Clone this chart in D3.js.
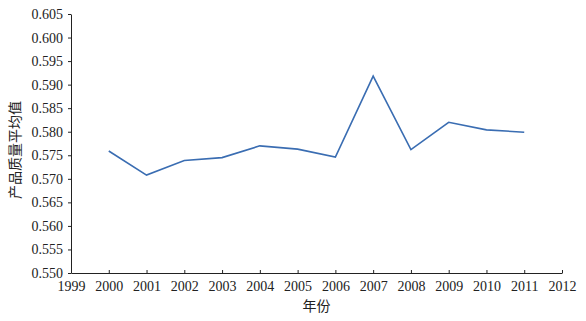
<!DOCTYPE html>
<html lang="zh">
<head>
<meta charset="UTF-8">
<title>产品质量平均值</title>
<script src="https://cdn.jsdelivr.net/npm/d3@7"></script>
<style>
  body { margin: 0; background: #fff; }
  .axis path, .axis line { fill: none; stroke: #222; }
  .axis text { font-family: "Liberation Serif", "Times New Roman", serif; font-size: 14px; fill: #222; }
</style>
</head>
<body>
<script>
const years = [2000, 2001, 2002, 2003, 2004, 2005, 2006, 2007, 2008, 2009, 2010, 2011];
const quality = [0.5759, 0.5708, 0.5739, 0.5745, 0.5770, 0.5763, 0.5746, 0.5918, 0.5762, 0.5820, 0.5804, 0.5799];
const xTicks = d3.range(1999, 2013);
const yTicks = d3.range(0.550, 0.6051, 0.005);

const w = 586, h = 321;
const margin = {left: 71, right: 24, top: 14, bottom: 48};

const svg = d3.select("body").append("svg")
  .attr("width", w).attr("height", h);

const x = d3.scaleLinear().domain([1999, 2012]).range([margin.left, w - margin.right]);
const y = d3.scaleLinear().domain([0.550, 0.605]).range([h - margin.bottom, margin.top]);

svg.append("g")
  .attr("class", "axis")
  .attr("transform", "translate(0," + (h - margin.bottom) + ")")
  .call(d3.axisBottom(x).tickValues(xTicks).tickFormat(d3.format("d")).tickSizeInner(-3).tickSizeOuter(0).tickPadding(8));

svg.append("g")
  .attr("class", "axis")
  .attr("transform", "translate(" + margin.left + ",0)")
  .call(d3.axisLeft(y).tickValues(yTicks).tickFormat(d3.format(".3f")).tickSizeInner(3).tickSizeOuter(0).tickPadding(5));

const line = d3.line()
  .x((d, i) => x(years[i]))
  .y(d => y(d));

svg.append("path")
  .datum(quality)
  .attr("fill", "none")
  .attr("stroke", "#3a6db2")
  .attr("stroke-width", 1.6)
  .attr("d", line);

svg.append("text")
  .attr("x", (margin.left + w - margin.right) / 2)
  .attr("y", 311)
  .attr("text-anchor", "middle")
  .style("font-family", "'Noto Sans CJK SC', sans-serif")
  .style("font-size", "14px")
  .style("fill", "#222")
  .text("年份");

svg.append("text")
  .attr("transform", "translate(20,150) rotate(-90)")
  .attr("text-anchor", "middle")
  .style("font-family", "'Noto Sans CJK SC', sans-serif")
  .style("font-size", "14px")
  .style("fill", "#222")
  .text("产品质量平均值");
</script>
</body>
</html>
